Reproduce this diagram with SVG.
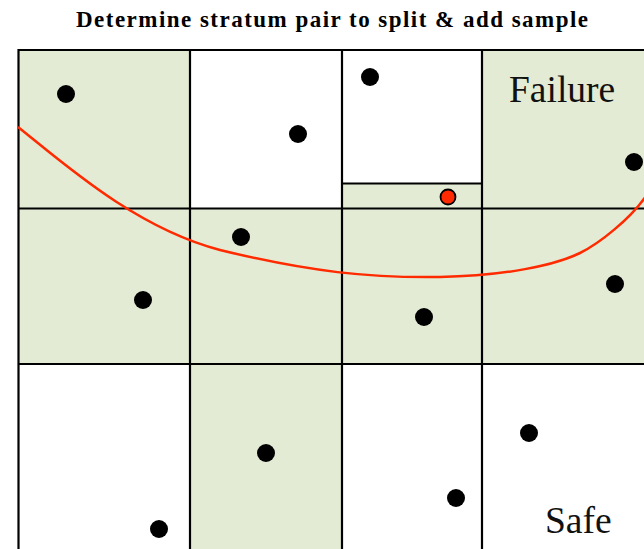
<svg xmlns="http://www.w3.org/2000/svg" width="644" height="549" viewBox="0 0 644 549">
<style>
.cell{fill:#e3ebd4;stroke:none}
.grid{stroke:#000;stroke-width:2.2;fill:none;stroke-linecap:square}
.dot{fill:#000}
.lbl{font-family:"Liberation Serif","Times New Roman",serif;font-size:37.5px;fill:#111}
.title{font-family:"Liberation Serif","Times New Roman",serif;font-size:23px;font-weight:bold;fill:#000}
</style>
<rect width="644" height="549" fill="#fff"/>
<text class="title" x="76" y="27" textLength="512" lengthAdjust="spacing">Determine stratum pair to split &amp; add sample</text>
<g id="shaded-cells">
<rect class="cell" x="18" y="50" width="172" height="158"/>
<rect class="cell" x="342" y="183" width="140" height="25"/>
<rect class="cell" x="482" y="50" width="162" height="158"/>
<rect class="cell" x="18" y="208" width="626" height="156"/>
<rect class="cell" x="190" y="364" width="152" height="185"/>
</g>
<g id="grid">
<path class="grid" d="M18.5,50 H644 M18.5,208.5 H644 M18.5,364 H644 M342,183.5 H482 M18.5,50 V549 M190,50 V549 M342,50 V549 M482,50 V549"/>
</g>
<g id="labels">
<text class="lbl" x="509" y="102">Failure</text>
<text class="lbl" x="545" y="533">Safe</text>
</g>
<g id="limit-state">
<path d="M18,127 C62,162 135,228 220,250 C310,272 370,278 440,277 C505,276 555,265 580,253 C600,243 630,219 646,196" fill="none" stroke="#ff2a00" stroke-width="2.5"/>
</g>
<g id="samples">
<circle class="dot" cx="66" cy="94" r="9"/>
<circle class="dot" cx="298" cy="134" r="9"/>
<circle class="dot" cx="370" cy="77" r="9"/>
<circle class="dot" cx="634" cy="162" r="9"/>
<circle class="dot" cx="241" cy="237" r="9"/>
<circle class="dot" cx="143" cy="300" r="9"/>
<circle class="dot" cx="424" cy="317" r="9"/>
<circle class="dot" cx="615" cy="284" r="9"/>
<circle class="dot" cx="266" cy="453" r="9"/>
<circle class="dot" cx="159" cy="529" r="9"/>
<circle class="dot" cx="456" cy="498" r="9"/>
<circle class="dot" cx="529" cy="433" r="9"/>
</g>
<g id="new-sample">
<circle cx="448" cy="197" r="7.5" fill="#ff2a00" stroke="#000" stroke-width="1.8"/>
</g>
</svg>
